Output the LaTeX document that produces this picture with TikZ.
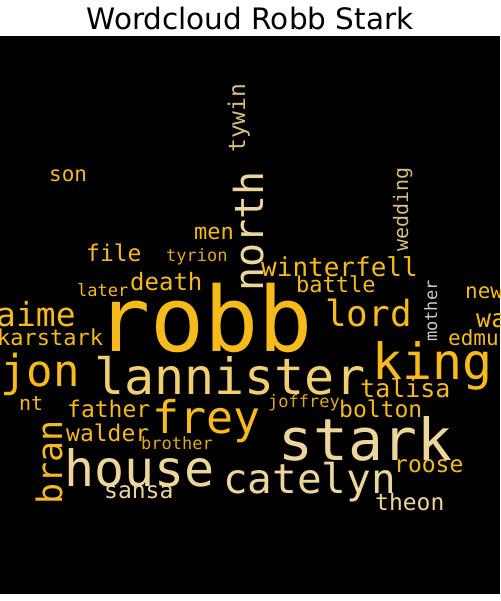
\documentclass[tikz,border=0pt]{standalone}
\usepackage{fontspec}
\usepackage{xcolor}
\usepackage{tikz}
\newfontfamily\wcfont{DejaVu Sans Mono}
\newfontfamily\titlefont{DejaVu Sans}
\newcommand{\wsize}[1]{\fontsize{#1}{#1}\selectfont}

\begin{document}
\begin{tikzpicture}[x=1pt,y=-1pt]
    \definecolor{wcgold}{RGB}{246,186,26}
    \definecolor{wcgoldd}{RGB}{222,168,36}
    \definecolor{wclgold}{RGB}{241,206,112}
    \definecolor{wcbeige}{RGB}{238,214,155}
    \definecolor{wctan}{RGB}{214,190,130}
    \definecolor{wcgray}{RGB}{205,205,200}

    \tikzstyle{word}=[anchor=base west,inner sep=0pt,text=wcgold]  % 横排的词
    \tikzstyle{upword}=[word,rotate=90]  % 竖排的词

    \useasboundingbox (0,0) rectangle (500,601);
    \fill[black] (0,36) rectangle (500,594);
    \node[anchor=base,inner sep=0pt,font=\titlefont\wsize{29.5}](title) at (250,30){Wordcloud Robb Stark};

    \begin{scope}
    \clip (0,36) rectangle (500,594);
    % 大词
    \node[word,font=\wcfont\wsize{90}](robb) at (96,351){robb};
    \node[word,font=\wcfont\wsize{50},text=wclgold](lannister) at (94,394){lannister};
    \node[word,font=\wcfont\wsize{58},text=wcbeige](stark) at (278,460){stark};
    \node[word,font=\wcfont\wsize{50}](king) at (372,379){king};
    \node[word,font=\wcfont\wsize{50},text=wcbeige](house) at (64,486){house};
    \node[word,font=\wcfont\wsize{45}](frey) at (152,433){frey};
    \node[word,font=\wcfont\wsize{44}](jon) at (0,386){jon};
    \node[word,font=\wcfont\wsize{41},text=wcbeige](catelyn) at (223,493){catelyn};
    \node[word,font=\wcfont\wsize{36}](lord) at (325,326){lord};
    \node[word,font=\wcfont\wsize{33}](aime) at (-4,326){aime};
    \node[upword,font=\wcfont\wsize{40},text=wcbeige](north) at (263,292){north};
    \node[upword,font=\wcfont\wsize{35}](bran) at (62,505){bran};
    % 中等的词
    \node[word,font=\wcfont\wsize{26}](winterfell) at (261,276){winterfell};
    \node[word,font=\wcfont\wsize{24}](death) at (130,290){death};
    \node[word,font=\wcfont\wsize{25}](talisa) at (360,397){talisa};
    \node[word,font=\wcfont\wsize{23}](file) at (86,261){file};
    \node[word,font=\wcfont\wsize{22}](men) at (194,240){men};
    \node[word,font=\wcfont\wsize{23}](father) at (67,417){father};
    \node[word,font=\wcfont\wsize{23}](walder) at (66,441){walder};
    \node[word,font=\wcfont\wsize{23}](bolton) at (339,417){bolton};
    \node[word,font=\wcfont\wsize{23}](roose) at (394,472){roose};
    \node[word,font=\wcfont\wsize{23},text=wcbeige](theon) at (375,510){theon};
    \node[word,font=\wcfont\wsize{23},text=wcbeige](sansa) at (104,498){sansa};
    \node[word,font=\wcfont\wsize{22}](battle) at (296,292){battle};
    \node[word,font=\wcfont\wsize{22}](karstark) at (-3,345){karstark};
    \node[upword,font=\wcfont\wsize{23},text=wctan](tywin) at (245,153){tywin};
    \node[upword,font=\wcfont\wsize{20},text=wctan](wedding) at (408,252){wedding};
    % 小词
    \node[word,font=\wcfont\wsize{21}](son) at (49,182){son};
    \node[word,font=\wcfont\wsize{17},text=wcgoldd](tyrion) at (166,261){tyrion};
    \node[word,font=\wcfont\wsize{17}](later) at (77,296){later};
    \node[word,font=\wcfont\wsize{17},text=wcgoldd](joffrey) at (268,407){joffrey};
    \node[word,font=\wcfont\wsize{17},text=wcgoldd](brother) at (141,449){brother};
    \node[upword,font=\wcfont\wsize{17},text=wcgray](mother) at (437,342){mother};
    \node[word,font=\wcfont\wsize{20}](nt) at (19,410){nt};
    \node[word,font=\wcfont\wsize{21}](new) at (465,298){new};
    \node[word,font=\wcfont\wsize{25}](wa) at (476,327){wa};
    \node[word,font=\wcfont\wsize{21}](edmu) at (448,345){edmu};
    \end{scope}
\end{tikzpicture}
\end{document}
